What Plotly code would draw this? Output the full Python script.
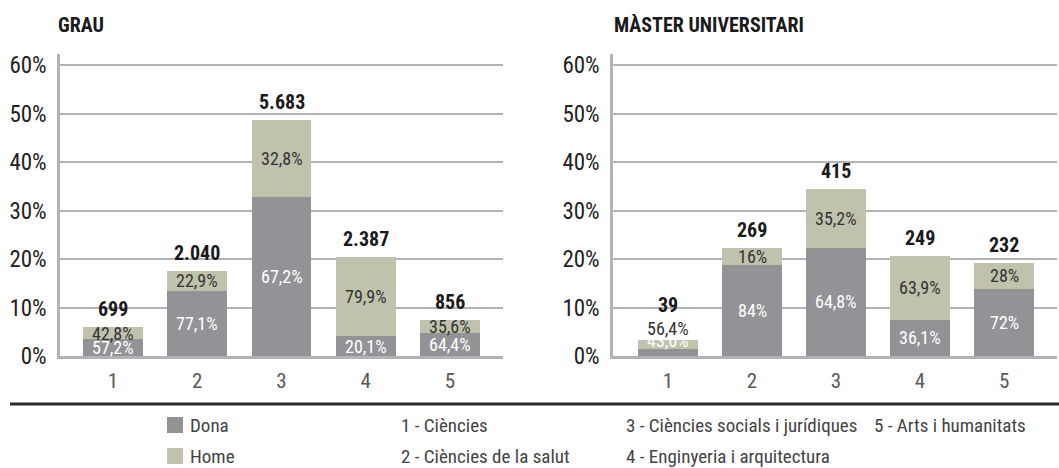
import plotly.graph_objects as go

# ---------------- data ----------------
categories = [1, 2, 3, 4, 5]
category_names = ["1 - Ciències", "2 - Ciències de la salut",
                  "3 - Ciències socials i jurídiques", "4 - Enginyeria i arquitectura",
                  "5 - Arts i humanitats"]
grau_counts = [699, 2040, 5683, 2387, 856]
grau_dona_share = [57.2, 77.1, 67.2, 20.1, 64.4]
grau_home_share = [42.8, 22.9, 32.8, 79.9, 35.6]
master_counts = [39, 269, 415, 249, 232]
master_dona_share = [43.6, 84, 64.8, 36.1, 72]
master_home_share = [56.4, 16, 35.2, 63.9, 28]
y_ticks = [0, 10, 20, 30, 40, 50, 60]
titles = ["GRAU", "MÀSTER UNIVERSITARI"]

# ---------------- style ----------------
W, H = 1059, 468
FONT = "Liberation Sans Narrow, Roboto Condensed, Arial Narrow, Liberation Sans, sans-serif"
C_DONA = "#939397"
C_HOME = "#c0c2ab"
C_GRID = "#b3b3b7"
C_TEXT = "#333333"


def px_x(p):
    return p / W


def px_y(p):
    return 1 - p / H


def fmt_pct(v):
    if float(v).is_integer():
        return f"{int(v)}%"
    return f"{v:.1f}".replace(".", ",") + "%"


def fmt_count(n):
    return f"{n:,}".replace(",", ".")


fig = go.Figure()

panels = [
    dict(counts=grau_counts, dona=grau_dona_share, home=grau_home_share,
         xa="x", ya="y", dom=[px_x(60), px_x(503)], rng=[0.37, 5.63], title=titles[0], tx=56),
    dict(counts=master_counts, dona=master_dona_share, home=master_home_share,
         xa="x2", ya="y2", dom=[px_x(613), px_x(1057)], rng=[0.345, 5.63], title=titles[1], tx=612),
]

annotations = []
ydom = [px_y(356), px_y(54)]
for i, p in enumerate(panels):
    total = sum(p["counts"])
    tot_pct = [c / total * 100 for c in p["counts"]]
    dona_h = [t * d / 100 for t, d in zip(tot_pct, p["dona"])]
    home_h = [t * h / 100 for t, h in zip(tot_pct, p["home"])]
    fig.add_trace(go.Bar(x=categories, y=dona_h, name="Dona", marker_color=C_DONA,
                         marker_line_width=0, width=0.71, xaxis=p["xa"], yaxis=p["ya"],
                         showlegend=False, hoverinfo="skip"))
    fig.add_trace(go.Bar(x=categories, y=home_h, name="Home", marker_color=C_HOME,
                         marker_line_width=0, width=0.71, xaxis=p["xa"], yaxis=p["ya"],
                         showlegend=False, hoverinfo="skip"))
    for k, cat in enumerate(categories):
        small = tot_pct[k] < 4
        annotations.append(dict(
            x=cat, y=(tot_pct[k] if small else dona_h[k] / 2), xref=p["xa"], yref=p["ya"],
            text=fmt_pct(p["dona"][k]), showarrow=False, yanchor="middle",
            font=dict(family=FONT, size=18, color="white")))
        annotations.append(dict(
            x=cat, y=(tot_pct[k] if small else dona_h[k] + home_h[k] / 2), xref=p["xa"], yref=p["ya"],
            text=fmt_pct(p["home"][k]), showarrow=False, yanchor="middle",
            yshift=(12 if small else 0),
            font=dict(family=FONT, size=18, color=C_TEXT)))
        annotations.append(dict(
            x=cat, y=tot_pct[k], xref=p["xa"], yref=p["ya"],
            text=f"<b>{fmt_count(p['counts'][k])}</b>", showarrow=False, yanchor="middle",
            yshift=(35 if small else 18),
            font=dict(family=FONT, size=20, color="#1a1a1a")))
    annotations.append(dict(x=px_x(p["tx"]), y=px_y(25), xref="paper", yref="paper",
                            text=f"<b>{p['title']}</b>", showarrow=False, xanchor="left",
                            yanchor="middle", font=dict(family=FONT, size=20, color="#1a1a1a")))

axis_common = dict(showgrid=False, zeroline=False, showline=True, linecolor=C_GRID,
                   linewidth=2.5, ticks="", ticklabelstandoff=4, automargin=False,
                   tickfont=dict(family=FONT, size=21, color="#5a5a5a"),
                   tickmode="array", tickvals=categories, ticktext=[str(c) for c in categories])
yaxis_common = dict(range=[0, 62.3], showgrid=True, gridcolor=C_GRID, gridwidth=2,
                    zeroline=False, showline=True, linecolor=C_GRID, linewidth=2.5,
                    tickmode="array", tickvals=y_ticks, ticktext=[f"{t}%" for t in y_ticks],
                    ticks="", ticklabelstandoff=6, automargin=False,
                    tickfont=dict(family=FONT, size=23, color="#222222"))

fig.update_layout(
    width=W, height=H, margin=dict(l=0, r=0, t=0, b=0, autoexpand=False),
    paper_bgcolor="white", plot_bgcolor="white", barmode="stack", bargap=0,
    font=dict(family=FONT),
    xaxis=dict(domain=panels[0]["dom"], range=panels[0]["rng"], anchor="y", **axis_common),
    xaxis2=dict(domain=panels[1]["dom"], range=panels[1]["rng"], anchor="y2", **axis_common),
    yaxis=dict(domain=ydom, anchor="x", **yaxis_common),
    yaxis2=dict(domain=ydom, anchor="x2", **yaxis_common),
    showlegend=False,
)

shapes = [dict(type="line", xref="paper", yref="paper", x0=px_x(10), x1=1, y0=px_y(404), y1=px_y(404),
               line=dict(color="#2a2a2a", width=3))]

legend_items = [("Dona", C_DONA, 425), ("Home", C_HOME, 456)]
for name, col, yc in legend_items:
    shapes.append(dict(type="rect", xref="paper", yref="paper",
                       x0=px_x(167), x1=px_x(183), y0=px_y(yc + 8), y1=px_y(yc - 8),
                       fillcolor=col, line_width=0))
    annotations.append(dict(x=px_x(188), y=px_y(yc), xref="paper", yref="paper", text=name,
                            showarrow=False, xanchor="left", yanchor="middle",
                            font=dict(family=FONT, size=19, color="#444444")))

cat_pos = [(399, 425), (399, 456), (624, 425), (624, 456), (872, 425)]
for name, (xp, yp) in zip(category_names, cat_pos):
    annotations.append(dict(x=px_x(xp), y=px_y(yp), xref="paper", yref="paper", text=name,
                            showarrow=False, xanchor="left", yanchor="middle",
                            font=dict(family=FONT, size=19, color="#444444")))

fig.update_layout(annotations=annotations, shapes=shapes)
fig.write_html("out.html", config={"displayModeBar": False},
               post_script="document.body.style.margin='0';")
